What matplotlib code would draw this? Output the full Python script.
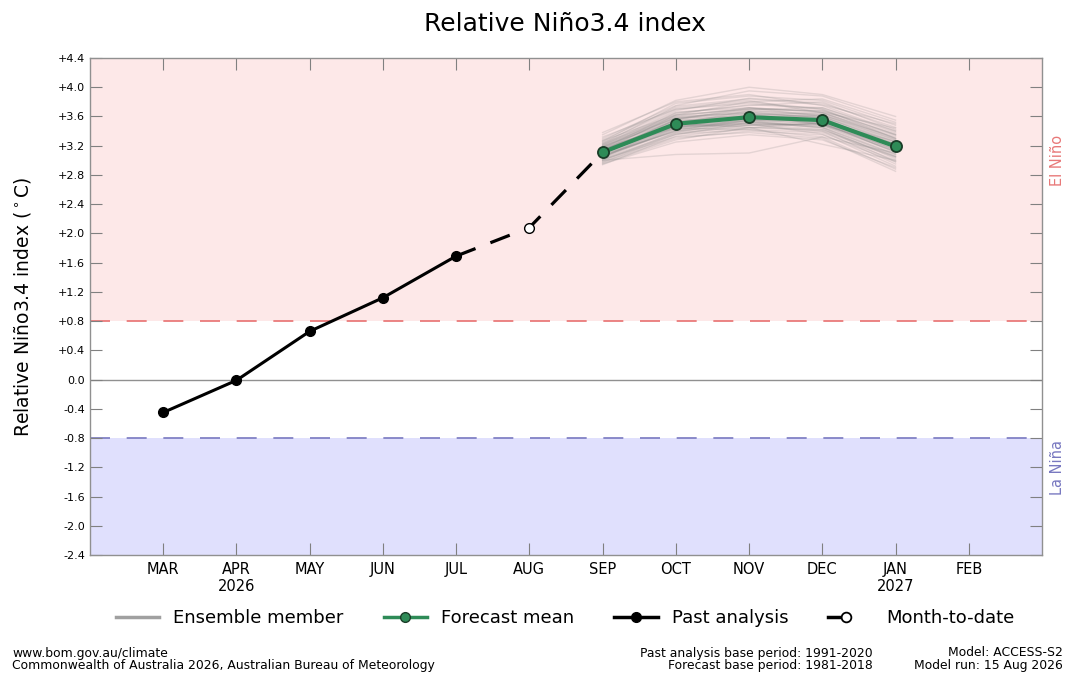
import matplotlib
matplotlib.use("Agg")
import matplotlib.pyplot as plt
from matplotlib.lines import Line2D
from matplotlib.legend_handler import HandlerBase

# ---------------- data ----------------
months = ["MAR", "APR\n2026", "MAY", "JUN", "JUL", "AUG", "SEP", "OCT", "NOV", "DEC", "JAN\n2027", "FEB"]
past_months = ["MAR", "APR", "MAY", "JUN", "JUL"]
past_values = [-0.45, -0.01, 0.66, 1.12, 1.69]
mtd_month = "AUG"
mtd_value = 2.08
fc_months = ["SEP", "OCT", "NOV", "DEC", "JAN"]
fc_mean = [3.11, 3.50, 3.59, 3.55, 3.19]
ensemble = [
    [3.05, 3.42, 3.55, 3.50, 3.12], [3.15, 3.60, 3.72, 3.66, 3.30], [3.22, 3.68, 3.85, 3.78, 3.45],
    [2.98, 3.30, 3.40, 3.35, 2.98], [3.10, 3.48, 3.62, 3.60, 3.25], [3.30, 3.75, 3.95, 3.88, 3.55],
    [3.02, 3.38, 3.45, 3.42, 3.05], [3.12, 3.55, 3.58, 3.52, 3.15], [3.18, 3.62, 3.70, 3.72, 3.40],
    [2.95, 3.25, 3.35, 3.28, 2.90], [3.08, 3.45, 3.50, 3.48, 3.20], [3.25, 3.70, 3.78, 3.70, 3.35],
    [3.00, 3.08, 3.10, 3.32, 3.10], [3.14, 3.52, 3.65, 3.58, 3.22], [3.35, 3.82, 4.00, 3.90, 3.60],
    [3.06, 3.40, 3.48, 3.40, 2.95], [3.20, 3.58, 3.60, 3.55, 3.18], [3.10, 3.50, 3.68, 3.62, 3.28],
    [2.97, 3.35, 3.52, 3.45, 3.08], [3.16, 3.65, 3.75, 3.80, 3.42], [3.04, 3.44, 3.42, 3.38, 3.00],
    [3.28, 3.72, 3.82, 3.65, 3.30], [3.12, 3.48, 3.55, 3.55, 3.20], [3.09, 3.52, 3.60, 3.50, 3.14],
    [3.22, 3.58, 3.66, 3.62, 3.26], [3.01, 3.32, 3.38, 3.30, 2.85], [3.14, 3.56, 3.70, 3.68, 3.35],
    [3.18, 3.46, 3.52, 3.48, 3.12], [3.26, 3.78, 3.88, 3.82, 3.48], [3.07, 3.40, 3.58, 3.55, 3.22],
    [3.11, 3.50, 3.45, 3.22, 3.00], [3.13, 3.54, 3.62, 3.58, 3.18], [2.99, 3.36, 3.48, 3.50, 3.16],
    [3.20, 3.64, 3.76, 3.72, 3.38], [3.06, 3.46, 3.56, 3.52, 3.10], [3.24, 3.60, 3.64, 3.60, 3.24],
    [3.03, 3.42, 3.52, 3.45, 3.02], [3.15, 3.52, 3.58, 3.62, 3.32], [3.38, 3.80, 3.90, 3.75, 3.40],
    [3.09, 3.47, 3.54, 3.46, 3.06], [3.17, 3.58, 3.68, 3.64, 3.28], [2.96, 3.28, 3.45, 3.40, 3.04],
    [3.12, 3.50, 3.60, 3.56, 3.20], [3.21, 3.66, 3.72, 3.60, 3.22], [3.05, 3.44, 3.62, 3.65, 3.34],
    [3.14, 3.48, 3.50, 3.42, 3.05], [3.10, 3.56, 3.66, 3.58, 3.18], [3.27, 3.62, 3.70, 3.68, 3.36],
    [3.00, 3.38, 3.55, 3.50, 3.12], [3.19, 3.54, 3.58, 3.54, 3.14], [3.08, 3.40, 3.50, 3.36, 2.92],
    [3.23, 3.74, 3.84, 3.76, 3.50], [2.94, 3.33, 3.44, 3.52, 3.26], [3.16, 3.44, 3.54, 3.44, 2.98],
    [3.32, 3.70, 3.80, 3.84, 3.52], [3.04, 3.50, 3.64, 3.48, 3.08], [3.13, 3.62, 3.80, 3.70, 3.30],
    [3.01, 3.36, 3.42, 3.32, 2.88], [3.19, 3.56, 3.72, 3.66, 3.44], [3.11, 3.46, 3.48, 3.50, 3.22],
]
elnino_threshold = 0.8
lanina_threshold = -0.8
yticks = [-2.4, -2.0, -1.6, -1.2, -0.8, -0.4, 0.0, 0.4, 0.8, 1.2, 1.6, 2.0, 2.4, 2.8, 3.2, 3.6, 4.0, 4.4]


class HandlerMTD(HandlerBase):
    def create_artists(self, legend, orig_handle, xdescent, ydescent, width, height, fontsize, trans):
        y = height / 2 - ydescent
        x0 = -xdescent
        ln = Line2D([x0, x0 + 0.34 * width], [y, y], color="black", lw=2.5)
        mk = Line2D([x0 + 0.42 * width], [y], marker="o", ms=7, mfc="white", mec="black", mew=1.3, ls="none")
        ln.set_transform(trans)
        mk.set_transform(trans)
        return [ln, mk]


# ---------------- plot ----------------
plt.rcParams['font.family'] = ['DejaVu Sans']
fig = plt.figure(figsize=(10.68, 6.76), dpi=100)
ax = fig.add_axes([90 / 1068, 121 / 676, 952 / 1068, 497 / 676])

keys = [m.split("\n")[0] for m in months]
pos = {k: i for i, k in enumerate(keys)}
ymin, ymax = yticks[0], yticks[-1]

ax.axhspan(elnino_threshold, ymax, color="#fde8e8", zorder=0, lw=0)
ax.axhspan(ymin, lanina_threshold, color="#e0e0fd", zorder=0, lw=0)
ax.axhline(elnino_threshold, color="#e87070", lw=1.2, ls=(0, (12, 10)), zorder=1)
ax.axhline(lanina_threshold, color="#7878c0", lw=1.2, ls=(0, (12, 10)), zorder=1)
ax.axhline(0.0, color="#909090", lw=1.0, zorder=1)

fx = [pos[m] for m in fc_months]
for mem in ensemble:
    ax.plot(fx, mem, color="#808080", alpha=0.2, lw=1.0, zorder=2)

px = [pos[m] for m in past_months]
ax.plot(px, past_values, color="black", lw=2.2, marker="o", ms=7, mfc="black", mec="black", zorder=4)

ax.plot([px[-1], pos[mtd_month], fx[0]], [past_values[-1], mtd_value, fc_mean[0]],
        color="black", lw=2.3, ls=(0, (6.5, 5)), zorder=3)
ax.plot([pos[mtd_month]], [mtd_value], marker="o", ms=7, mfc="white", mec="black", mew=1.0, zorder=5, ls="none")

ax.plot(fx, fc_mean, color="#2e8b57", lw=3, marker="o", ms=8, mfc="#2e8b57", mec="#1a3d28", mew=1.3, zorder=6)

ax.set_xlim(-1, 12)
ax.set_ylim(ymin, ymax)
ax.set_xticks(range(len(months)))
ax.set_xticklabels(months, fontsize=10.5)
ax.set_yticks(yticks)
ax.set_yticklabels([("0.0" if abs(v) < 1e-9 else f"{v:+.1f}") for v in yticks], fontsize=8)
ax.tick_params(axis="both", direction="in", length=8.5, width=0.8, color="#808080",
               top=True, right=True, labelcolor="black")
ax.tick_params(axis="x", pad=5)
for s in ax.spines.values():
    s.set_color("#909090")
    s.set_linewidth(1.0)

ax.set_ylabel("Relative Niño3.4 index ($^\\circ$C)", fontsize=13.5)
ax.yaxis.set_label_coords(-0.060, 0.5)
fig.text(565 / 1068, 1 - 24 / 676, "Relative Niño3.4 index", ha="center", va="center", fontsize=18)

ax.text(1.016, (3.0 - ymin) / (ymax - ymin), "El Niño", transform=ax.transAxes, rotation=90,
        ha="center", va="center", color="#e87878", fontsize=10.5)
ax.text(1.016, (-1.2 - ymin) / (ymax - ymin), "La Niña", transform=ax.transAxes, rotation=90,
        ha="center", va="center", color="#7878c0", fontsize=10.5)

mtd_handle = Line2D([], [], color="black")
handles = [
    Line2D([], [], color="#a0a0a0", lw=2.5),
    Line2D([], [], color="#2e8b57", lw=2.5, marker="o", ms=7, mfc="#2e8b57", mec="#1a3d28"),
    Line2D([], [], color="black", lw=2.5, marker="o", ms=7, mfc="black", mec="black"),
    mtd_handle,
]
labels = ["Ensemble member", "Forecast mean", "Past analysis", "Month-to-date"]
fig.legend(handles, labels, loc="center", bbox_to_anchor=(565 / 1068, 1 - 618 / 676), ncol=4,
           frameon=False, fontsize=13, handlelength=2.4, columnspacing=2.2, handletextpad=0.8,
           handler_map={mtd_handle: HandlerMTD()})

fs = 8.9
fig.text(12 / 1068, 1 - 653 / 676, "www.bom.gov.au/climate", fontsize=fs, va="center", ha="left")
fig.text(12 / 1068, 1 - 665 / 676, "Commonwealth of Australia 2026, Australian Bureau of Meteorology",
         fontsize=fs, va="center", ha="left")
fig.text(873 / 1068, 1 - 653 / 676, "Past analysis base period: 1991-2020", fontsize=fs, va="center", ha="right")
fig.text(873 / 1068, 1 - 665 / 676, "Forecast base period: 1981-2018", fontsize=fs, va="center", ha="right")
fig.text(1063 / 1068, 1 - 653 / 676, "Model: ACCESS-S2", fontsize=fs, va="center", ha="right")
fig.text(1063 / 1068, 1 - 665 / 676, "Model run: 15 Aug 2026", fontsize=fs, va="center", ha="right")

fig.savefig("out.png", dpi=100)
